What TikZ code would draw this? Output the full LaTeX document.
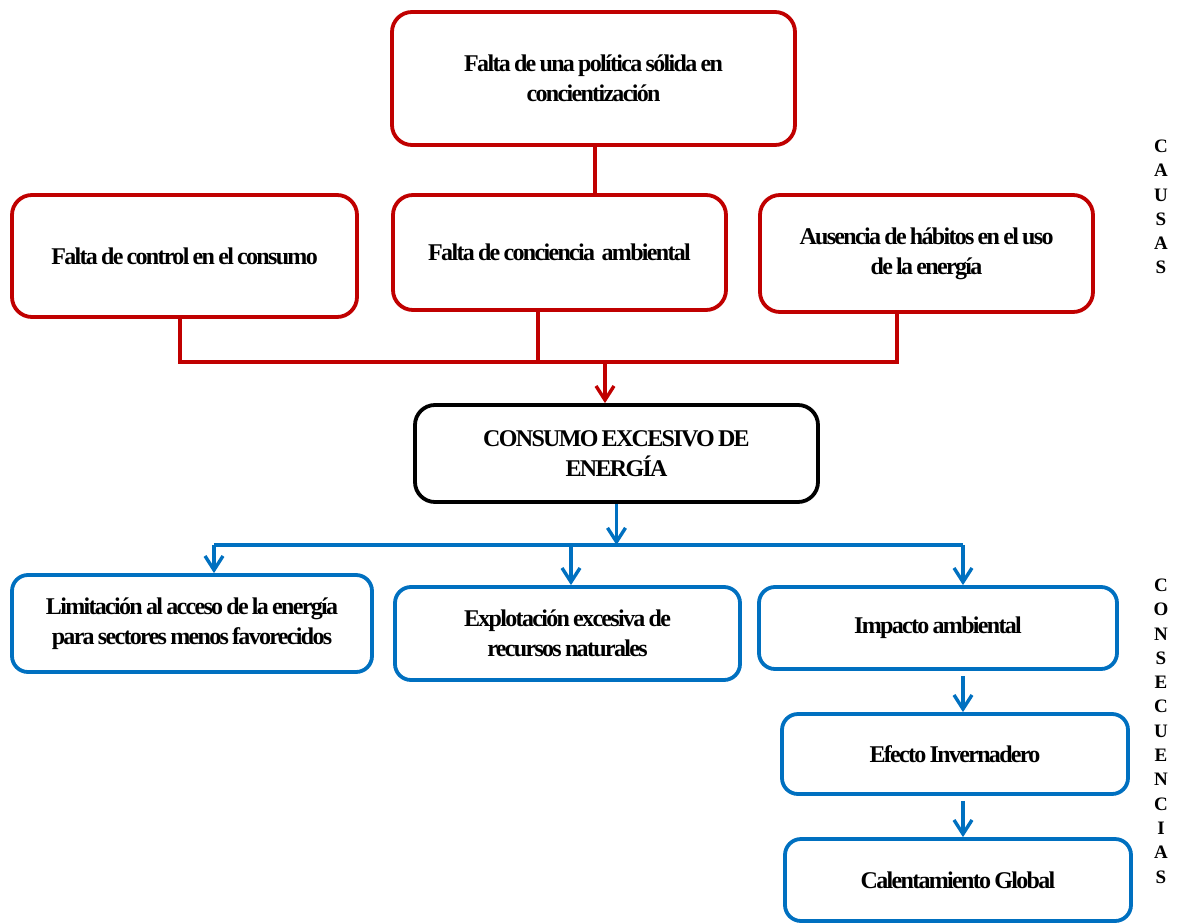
\documentclass[tikz,border=0pt]{standalone}
\usepackage{fontspec}
\setmainfont{Liberation Serif}[LetterSpace=-7, WordSpace=0.75]
\newfontfamily\sidefont{Liberation Serif}
\usetikzlibrary{arrows.meta}
\definecolor{causered}{HTML}{C00000}
\definecolor{effectblue}{HTML}{0070C0}
\tikzset{
  box/.style={draw, line width=3.8pt, rounded corners=20pt, align=center, inner sep=0pt,
    font=\fontsize{24}{30}\selectfont\bfseries},
  causebox/.style={box, draw=causered},
  corebox/.style={box, draw=black},
  effectbox/.style={box, draw=effectblue, rounded corners=16pt},
  redln/.style={draw=causered, line width=3.4pt},
  redarr/.style={redln, -{Straight Barb[length=14pt, width=18pt, line width=3.4pt]}},
  blueln/.style={draw=effectblue, line width=3.4pt},
  bluearr/.style={blueln, -{Straight Barb[length=14pt, width=18pt, line width=3.4pt]}},
  sidelabel/.style={align=center, inner sep=0pt, font=\sidefont\fontsize{19}{24.3}\selectfont\bfseries},
}
\begin{document}
\begin{tikzpicture}[x=1pt, y=-1pt]
\useasboundingbox (0,0) rectangle (1187,924);
% causes
\node[causebox, minimum width=403pt, minimum height=133pt] (pol) at (593.5,78.5)
  {Falta de una política sólida en\\concientización};
\node[causebox, minimum width=345pt, minimum height=122pt] (ctl) at (184.5,256)
  {Falta de control en el consumo};
\node[causebox, minimum width=333pt, minimum height=115pt] (con) at (559.5,252.5)
  {Falta de conciencia\ \ ambiental};
\node[causebox, minimum width=333pt, minimum height=117pt] (hab) at (926.5,253.5)
  {Ausencia de hábitos en el uso\\de la energía};
% central problem
\node[corebox, minimum width=403pt, minimum height=97pt] (core) at (616.5,453.5)
  {CONSUMO EXCESIVO DE\\ENERGÍA};
% consequences
\node[effectbox, minimum width=360pt, minimum height=97pt] (lim) at (192,623.5)
  {Limitación al acceso de la energía\\para sectores menos favorecidos};
\node[effectbox, minimum width=345pt, minimum height=93pt] (exp) at (567.5,633.5)
  {Explotación excesiva de\\recursos naturales};
\node[effectbox, minimum width=358pt, minimum height=82pt] (imp) at (938,628)
  {Impacto ambiental};
\node[effectbox, minimum width=346pt, minimum height=80pt] (efe) at (955,754)
  {Efecto Invernadero};
\node[effectbox, minimum width=346pt, minimum height=82pt] (cal) at (958,880)
  {Calentamiento Global};
% side labels
\node[sidelabel] (causas) at (1161,207) {C\\A\\U\\S\\A\\S};
\node[sidelabel] (consec) at (1161,731) {C\\O\\N\\S\\E\\C\\U\\E\\N\\C\\I\\A\\S};
% cause connectors
\coordinate (rbus) at (605,362);
\draw[redln] (pol.south -| 595,0) -- (con.north -| 595,0);
\draw[redln] ([xshift=-4.5pt]ctl.south) -- ([xshift=-4.5pt]ctl.south |- rbus)
  -- ([xshift=-29.5pt]hab.south |- rbus) -- ([xshift=-29.5pt]hab.south);
\draw[redln] ([xshift=-21.5pt]con.south) -- ([xshift=-21.5pt]con.south |- rbus);
\draw[redarr] (rbus) -- (rbus |- core.north);
% consequence connectors
\coordinate (xa) at (214,545);
\coordinate (xb) at (571,545);
\coordinate (xc) at (963,545);
\draw[bluearr] (core.south) -- (core.south |- xc);
\draw[blueln] (xa) -- (xc);
\draw[bluearr] (xa) -- (xa |- lim.north);
\draw[bluearr] (xb) -- (xb |- exp.north);
\draw[bluearr] (xc) -- (xc |- imp.north);
\draw[bluearr, shorten <=5pt] (xc |- imp.south) -- (xc |- efe.north);
\draw[bluearr, shorten <=5pt] (xc |- efe.south) -- (xc |- cal.north);
\end{tikzpicture}
\end{document}
